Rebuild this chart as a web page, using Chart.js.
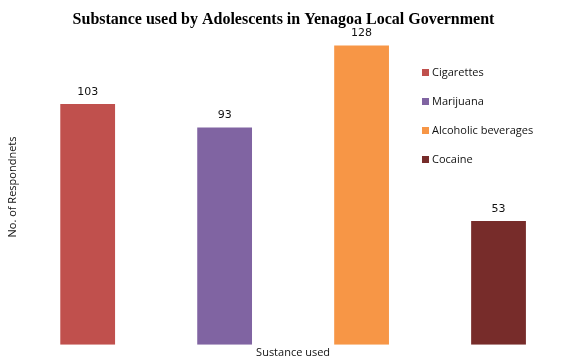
<!DOCTYPE html>
<html>
<head>
<meta charset="utf-8">
<script src="https://cdn.jsdelivr.net/npm/chart.js"></script>
<style>
  body { margin: 0; background: #fff; }
</style>
</head>
<body>
<canvas id="myChart" width="568" height="361"></canvas>
<script>
// datos
const categories = ['Cigarettes', 'Marijuana', 'Alcoholic beverages', 'Cocaine'];
const respondents = [103, 93, 128, 53];
const barColors = ['#C0504D', '#8064A2', '#F79646', '#772C2A'];

// etiquetas de valor encima de cada barra
const valueLabels = {
  id: 'valueLabels',
  afterDatasetsDraw(chart) {
    const c = chart.ctx;
    const meta = chart.getDatasetMeta(0);
    c.save();
    c.font = '11px "DejaVu Sans"';
    c.fillStyle = '#111';
    c.textAlign = 'center';
    c.textBaseline = 'middle';
    meta.data.forEach((bar, i) => {
      c.fillText(String(respondents[i]), bar.x, bar.y - 12);
    });
    c.restore();
  }
};

// leyenda dibujada a mano (se superpone al area del grafico)
const sideLegend = {
  id: 'sideLegend',
  afterDraw(chart) {
    const c = chart.ctx;
    c.save();
    c.font = '11px "Open Sans"';
    c.textBaseline = 'middle';
    categories.forEach((name, i) => {
      const y = 73 + i * 29;
      c.fillStyle = barColors[i];
      c.fillRect(422, y - 4, 7, 7);
      c.fillStyle = '#111';
      c.fillText(name, 432, y);
    });
    c.restore();
  }
};

const chartCtx = document.getElementById('myChart').getContext('2d');
const myChart = new Chart(chartCtx, {
  type: 'bar',
  data: {
    labels: categories,
    datasets: [{
      data: respondents,
      backgroundColor: barColors,
      borderWidth: 0,
      categoryPercentage: 1,
      barPercentage: 0.4
    }]
  },
  options: {
    responsive: false,
    animation: false,
    layout: { padding: { left: 0, right: 1, top: 0, bottom: 0 } },
    plugins: {
      legend: { display: false },
      tooltip: { enabled: false },
      title: {
        display: true,
        text: 'Substance used by Adolescents in Yenagoa Local Government',
        font: { family: '"Liberation Serif"', size: 16, weight: 'bold' },
        color: '#000',
        padding: { top: 10, bottom: 0 }
      }
    },
    scales: {
      x: {
        grid: { display: false, drawTicks: false },
        border: { display: false },
        ticks: { display: false },
        title: {
          display: true,
          text: 'Sustance used',
          font: { family: '"Open Sans"', size: 11 },
          color: '#111',
          padding: { top: 1, bottom: 2 }
        }
      },
      y: {
        min: 0,
        max: 135,
        grid: { display: false, drawTicks: false },
        border: { display: false },
        ticks: { display: false },
        title: {
          display: true,
          text: 'No. of Respondnets',
          font: { family: '"Open Sans"', size: 11 },
          color: '#111',
          padding: { top: 6, bottom: 0 }
        }
      }
    }
  },
  plugins: [valueLabels, sideLegend]
});
</script>
</body>
</html>
